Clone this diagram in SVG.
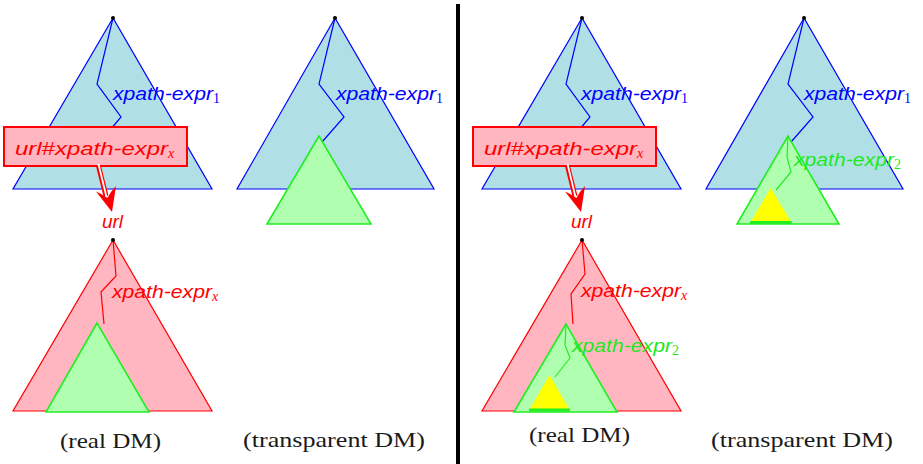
<svg xmlns="http://www.w3.org/2000/svg" width="923" height="464" viewBox="0 0 923 464">
<style>
.bt{fill:#b0e0e6;stroke:#0000ff;stroke-width:1.2;stroke-linejoin:miter}
.rt{fill:#ffb6c1;stroke:#ff0000;stroke-width:1.2}
.gt{fill:#b0ffb0;stroke:#22ee22;stroke-width:1.6}
.yt{fill:#ffff00;stroke:none}
.gbar{stroke:#22ee22;stroke-width:3}
.bp{fill:none;stroke:#0000ff;stroke-width:1.2}
.rp{fill:none;stroke:#ff0000;stroke-width:1.2}
.gp{fill:none;stroke:#22ee22;stroke-width:1.2}
.dot{fill:#000}
.lbl{font-family:"Liberation Sans",Arial,sans-serif;font-style:italic;font-size:19px}
.sub{font-family:"Liberation Serif","Times New Roman",serif;font-style:normal;font-size:14px}
.subx{font-family:"Liberation Serif","Times New Roman",serif;font-style:italic;font-size:14px}
.cap{font-family:"Liberation Serif","Times New Roman",serif;font-size:22px;fill:#1a1a1a}
.blue{fill:#0000ff}.red{fill:#ff0000}.green{fill:#1ee81e}
.box{fill:#ffb6c1;stroke:#ff0000;stroke-width:2}
.dbo{stroke:#ff0000;stroke-width:5;fill:none}
.dbi{stroke:#ffffff;stroke-width:1.8;fill:none}
.ah{fill:#ff0000}
</style>
<defs>
<g id="dblArrow">
<line class="dbo" x1="98.5" y1="166" x2="106" y2="196"/>
<line class="dbi" x1="98.5" y1="164" x2="106.5" y2="197"/>
<path class="ah" d="M112,212 L96,191.5 Q102,194 107.5,198 Q111,191 116,186 Z"/>
</g>
</defs>

<!-- divider -->
<rect x="456" y="4" width="4" height="460" fill="#000"/>

<!-- Panel 1: real DM (left) -->
<g id="tree1">
<polygon class="bt" points="113,18 13,189 212,189"/>
<polyline class="bp" points="113,18 97,84 121,117 110,130"/>
<circle class="dot" cx="113" cy="18" r="2"/>
<text class="lbl blue" x="113" y="100"><tspan textLength="100" lengthAdjust="spacingAndGlyphs">xpath-expr</tspan><tspan class="sub" dy="3">1</tspan></text>
</g>
<g id="tree1x">
<polygon class="rt" points="113,240 13,411 212,411"/>
<polyline class="rp" points="113,240 116,276 101,292 104,324"/>
<circle class="dot" cx="113" cy="240" r="2"/>
<polygon class="gt" points="97,323 46,412 149,412"/>
<text class="lbl red" x="112" y="298"><tspan textLength="100" lengthAdjust="spacingAndGlyphs">xpath-expr</tspan><tspan class="subx" dy="3">x</tspan></text>
</g>
<g id="box1">
<rect class="box" x="4" y="127" width="183" height="39"/>
<text class="lbl red" x="15" y="155" font-size="20"><tspan textLength="153" lengthAdjust="spacingAndGlyphs">url#xpath-expr</tspan><tspan class="subx" dy="3">x</tspan></text>
</g>
<text class="cap" x="60" y="448" textLength="101" lengthAdjust="spacingAndGlyphs">(real DM)</text>

<!-- Panel 2: transparent DM (left) -->
<g id="tree2">
<polygon class="bt" points="335,18 237,189 434,189"/>
<polyline class="bp" points="335,18 319,84 344,117 322,142"/>
<circle class="dot" cx="335" cy="18" r="2"/>
<polygon class="gt" points="319,136 267,224 371,224"/>
<text class="lbl blue" x="336" y="100"><tspan textLength="100" lengthAdjust="spacingAndGlyphs">xpath-expr</tspan><tspan class="sub" dy="3">1</tspan></text>
</g>
<text class="cap" x="243" y="447" textLength="182" lengthAdjust="spacingAndGlyphs">(transparent DM)</text>

<!-- Panel 3: real DM (right) -->
<g id="tree3">
<polygon class="bt" points="582,18 482,189 681,189"/>
<polyline class="bp" points="582,18 566,84 590,117 579,130"/>
<circle class="dot" cx="582" cy="18" r="2"/>
<text class="lbl blue" x="581" y="100"><tspan textLength="100" lengthAdjust="spacingAndGlyphs">xpath-expr</tspan><tspan class="sub" dy="3">1</tspan></text>
</g>
<g id="tree3x">
<polygon class="rt" points="582,240 482,411 681,411"/>
<polyline class="rp" points="582,240 585,274 571,294 573,324"/>
<circle class="dot" cx="582" cy="240" r="2"/>
<polygon class="gt" points="566,324 514,412 617,412"/>
<polyline class="gp" points="566,324 565,345 570,358 555,377"/>
<polygon class="yt" points="549.5,375 529,410.5 570,410.5"/>
<line class="gbar" x1="529" y1="410" x2="570" y2="410"/>
<text class="lbl red" x="581" y="297"><tspan textLength="100" lengthAdjust="spacingAndGlyphs">xpath-expr</tspan><tspan class="subx" dy="3">x</tspan></text>
<text class="lbl green" x="572" y="352"><tspan textLength="100" lengthAdjust="spacingAndGlyphs">xpath-expr</tspan><tspan class="sub" dy="3">2</tspan></text>
</g>
<g id="box3">
<rect class="box" x="473" y="127" width="183" height="39"/>
<text class="lbl red" x="484" y="155" font-size="20"><tspan textLength="153" lengthAdjust="spacingAndGlyphs">url#xpath-expr</tspan><tspan class="subx" dy="3">x</tspan></text>
</g>
<text class="cap" x="529" y="442" textLength="101" lengthAdjust="spacingAndGlyphs">(real DM)</text>

<!-- Panel 4: transparent DM (right) -->
<g id="tree4">
<polygon class="bt" points="804,18 706,189 903,189"/>
<polyline class="bp" points="804,18 788,84 813,117 791,142"/>
<circle class="dot" cx="804" cy="18" r="2"/>
<polygon class="gt" points="788,136 737,224 839,224"/>
<polyline class="gp" points="788,136 787,157 791,172 776,190"/>
<polygon class="yt" points="770.7,188 750,223 791.7,223"/>
<line class="gbar" x1="750" y1="222.5" x2="791.7" y2="222.5"/>
<text class="lbl blue" x="804" y="100"><tspan textLength="100" lengthAdjust="spacingAndGlyphs">xpath-expr</tspan><tspan class="sub" dy="3">1</tspan></text>
<text class="lbl green" x="794" y="166"><tspan textLength="100" lengthAdjust="spacingAndGlyphs">xpath-expr</tspan><tspan class="sub" dy="3">2</tspan></text>
</g>
<text class="cap" x="711" y="447" textLength="182" lengthAdjust="spacingAndGlyphs">(transparent DM)</text>

<!-- connectors -->
<g id="connectors">
<use href="#dblArrow"/>
<use href="#dblArrow" transform="translate(469,0)"/>
</g>
<g id="url1"><text class="lbl red" x="112.5" y="228" text-anchor="middle" font-size="20">url</text></g>
<g id="url3"><text class="lbl red" x="581.5" y="228" text-anchor="middle" font-size="20">url</text></g>
</svg>
